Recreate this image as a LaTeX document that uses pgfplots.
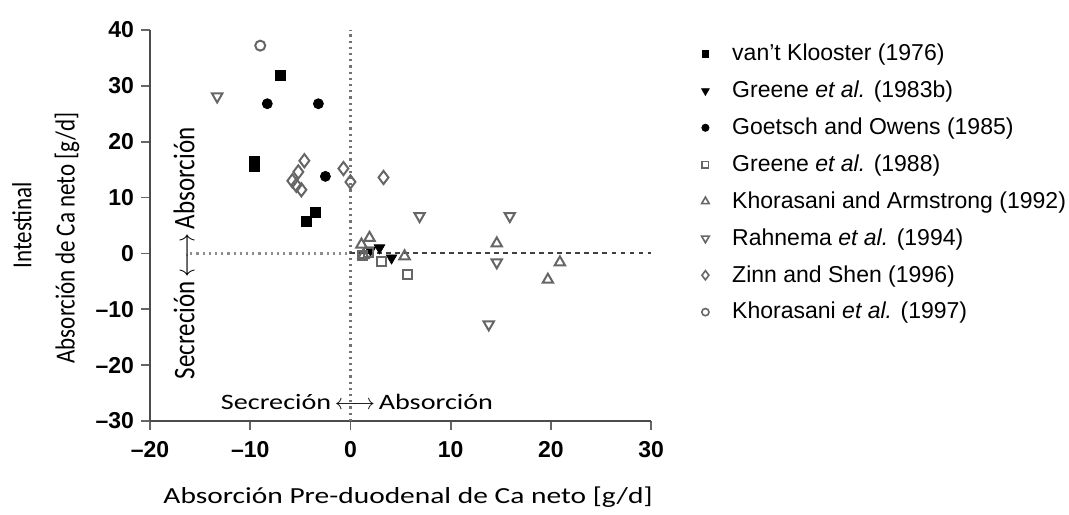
\documentclass[border=0pt]{standalone}
\usepackage{fontspec}
\setmainfont{Liberation Sans}
\newfontfamily\calst[FakeStretch=1.28]{Carlito}
\newfontfamily\calfont{Carlito}
\usepackage{pgfplots}
\pgfplotsset{compat=1.18}
\begin{document}
\begin{tikzpicture}
\begin{axis}[
  scale only axis,
  width=250.5pt, height=195.5pt,
  xmin=-20, xmax=30, ymin=-30, ymax=40,
  axis x line*=bottom, axis y line*=left,
  axis line style={black!70, line width=0.9pt},
  tick style={black!60, line width=0.9pt},
  major tick length=4.5pt,
  tick align=outside,
  xtick={-20,-10,0,10,20,30},
  xticklabels={–20,–10,0,10,20,30},
  ytick={-30,-20,-10,0,10,20,30,40},
  yticklabels={–30,–20,–10,0,10,20,30,40},
  ticklabel style={font=\fontsize{11.5}{13}\selectfont\bfseries},
  xticklabel style={yshift=-2pt},
  clip=false,
  legend style={at={(1.100,0.975)}, anchor=north west, draw=none, fill=none,
    font=\fontsize{11.5}{14}\selectfont, row sep=4.6pt, inner sep=0pt,
    /tikz/every odd column/.append style={column sep=9.5pt}},
  legend cell align=left,
]
% reference lines
\draw[black!55, dotted, line width=1.1pt] (axis cs:0,-30) -- (axis cs:0,40);
\draw[black!45, dotted, line width=1.1pt] (axis cs:-16,0) -- (axis cs:0,0);
\draw[black!75, line width=1pt, dash pattern=on 2.2pt off 2.3pt] (axis cs:0,0) -- (axis cs:30,0);

% van't Klooster (1976)
\addplot[only marks, mark=square*, mark size=2.5pt, black, forget plot] coordinates {
(-7.0,31.8) (-9.6,16.4) (-9.6,15.6) (-3.5,7.3) (-4.4,5.8)};
% Greene et al. (1983b)
\addplot[only marks, mark=triangle*, mark size=3pt, black, mark options={rotate=180}, forget plot] coordinates {
(2.0,0.6) (2.9,1.0) (4.1,-0.8)};
% Goetsch and Owens (1985)
\addplot[only marks, mark=*, mark size=2.5pt, black, forget plot] coordinates {
(-8.3,26.8) (-3.2,26.8) (-2.5,13.8)};
% Greene et al. (1988)
\addplot[only marks, mark=square, mark size=2.2pt, black!60, line width=1pt, forget plot] coordinates {
(1.2,-0.4) (1.8,0.2) (3.1,-1.5) (5.7,-3.8)};
% Khorasani and Armstrong (1992)
\addplot[only marks, mark=triangle, mark size=3pt, black!60, line width=1pt, forget plot] coordinates {
(1.9,2.8) (1.1,1.6) (1.3,-0.3) (5.4,-0.5) (14.6,1.8) (20.9,-1.6) (19.7,-4.7)};
% Rahnema et al. (1994)
\addplot[only marks, mark=triangle, mark size=3pt, black!60, line width=1pt, mark options={rotate=180}, forget plot] coordinates {
(-13.3,28.1) (6.9,6.7) (15.9,6.7) (14.6,-1.6) (13.8,-12.7)};
% Zinn and Shen (1996)
\addplot[only marks, mark=diamond, mark size=3.3pt, black!60, line width=1pt, forget plot] coordinates {
(-4.6,16.6) (-5.2,14.6) (-5.8,13.0) (-5.4,12.2) (-4.9,11.4) (-0.7,15.2) (0,12.8) (3.3,13.6)};
% Khorasani et al. (1997)
\addplot[only marks, mark=o, mark size=2.5pt, black!60, line width=1pt, forget plot] coordinates {
(-9.0,37.2)};

% legend
\addlegendimage{only marks, mark=square*, mark size=1.7pt, black}
\addlegendentry{van't Klooster (1976)}
\addlegendimage{only marks, mark=triangle*, mark size=2.2pt, black, mark options={rotate=180}}
\addlegendentry{Greene \textit{et al.} (1983b)}
\addlegendimage{only marks, mark=*, mark size=1.8pt, black}
\addlegendentry{Goetsch and Owens (1985)}
\addlegendimage{only marks, mark=square, mark size=1.6pt, black!60, line width=0.8pt}
\addlegendentry{Greene \textit{et al.} (1988)}
\addlegendimage{only marks, mark=triangle, mark size=2.2pt, black!60, line width=0.8pt}
\addlegendentry{Khorasani and Armstrong (1992)}
\addlegendimage{only marks, mark=triangle, mark size=2.2pt, black!60, line width=0.8pt, mark options={rotate=180}}
\addlegendentry{Rahnema \textit{et al.} (1994)}
\addlegendimage{only marks, mark=diamond, mark size=2.3pt, black!60, line width=0.8pt}
\addlegendentry{Zinn and Shen (1996)}
\addlegendimage{only marks, mark=o, mark size=1.8pt, black!60, line width=0.8pt}
\addlegendentry{Khorasani \textit{et al.} (1997)}

% annotations
\node[rotate=90, font=\calfont\fontsize{12.5}{14}\selectfont, inner sep=0pt] at (axis cs:-16.6,0) {\scalebox{1}[1.2]{Secreción\,$\longleftrightarrow$\,Absorción}};
\node[font=\calst\fontsize{11}{13}\selectfont, inner sep=0pt] at (axis cs:0.65,-26.5) {Secreción\,$\longleftrightarrow$\,Absorción};

% axis labels
\node[rotate=90, font=\calfont\fontsize{11.5}{14}\selectfont, inner sep=0pt] at (axis description cs:-0.2555,0.501) {\scalebox{1}[1.2]{Intestinal}};
\node[rotate=90, font=\calfont\fontsize{11.5}{14}\selectfont, inner sep=0pt] at (axis description cs:-0.1657,0.468) {\scalebox{1}[1.2]{Absorción de Ca neto [g/d]}};
\node[font=\calst\fontsize{11.5}{14}\selectfont, inner sep=0pt] at (axis description cs:0.515,-0.194) {Absorción Pre-duodenal de Ca neto [g/d]};

\coordinate (bbl) at (axis description cs:-0.2994,-0.2379);
\coordinate (btr) at (axis description cs:1.834,1.0767);
\end{axis}
\pgfresetboundingbox
\path[use as bounding box] (bbl) rectangle (btr);
\end{tikzpicture}
\end{document}
